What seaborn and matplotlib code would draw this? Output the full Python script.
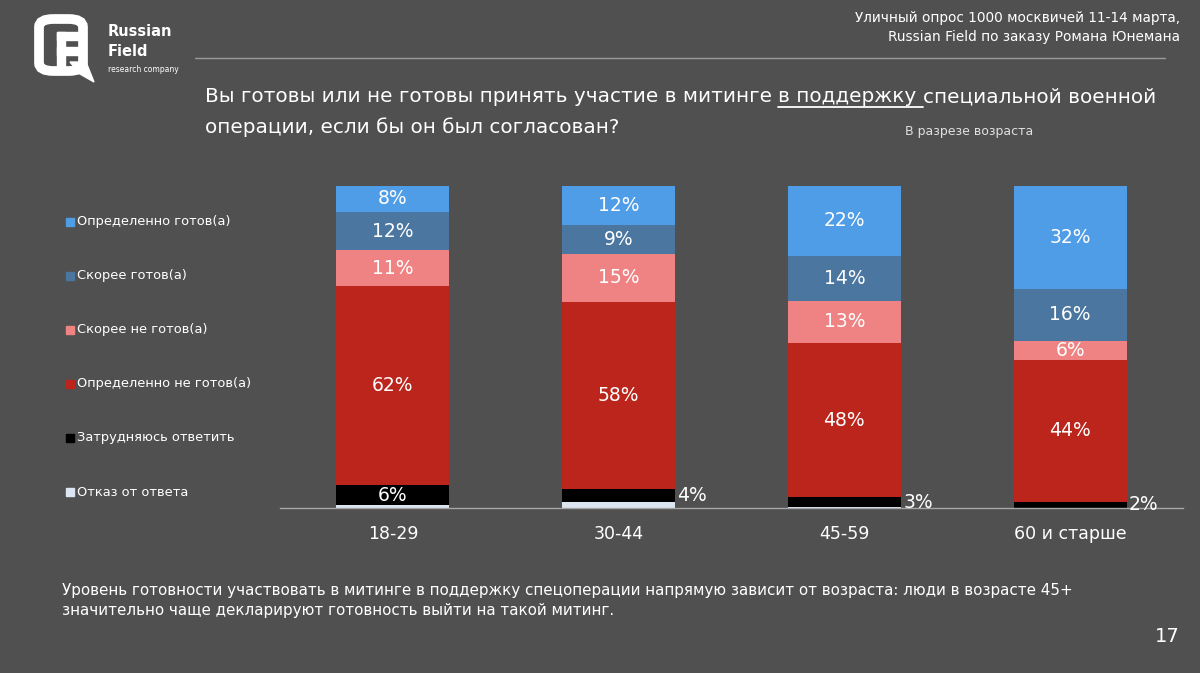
import numpy as np
import matplotlib.pyplot as plt
import seaborn as sns
from matplotlib.patches import Rectangle, FancyBboxPatch, Polygon
from matplotlib.lines import Line2D

# survey answers by age group, percent (stacked bottom -> top)
categories = ["18-29", "30-44", "45-59", "60 и старше"]
series_names = ["Отказ от ответа", "Затрудняюсь ответить", "Определенно не готов(а)",
                "Скорее не готов(а)", "Скорее готов(а)", "Определенно готов(а)"]
refusal = [1, 2, 0.3, 0]
hard_to_say = [6, 4, 3, 2]
def_no = [62, 58, 48, 44]
rather_no = [11, 15, 13, 6]
rather_yes = [12, 9, 14, 16]
def_yes = [8, 12, 22, 32]

colors = ["#dce6f2", "#000000", "#bb251c", "#ef8383", "#4a76a0", "#4f9de6"]
bg = "#505050"
W, H = 1200, 673

sns.set_style("dark")
plt.rcParams['font.family'] = ['DejaVu Sans']

fig = plt.figure(figsize=(12, 6.73), dpi=100, facecolor=bg)


def fx(px):
    return px / W


def fy(py):
    return 1 - py / H


ax = fig.add_axes([fx(280), fy(508), fx(1183) - fx(280), fy(186) - fy(508)])
ax.set_facecolor("none")

stack = np.array([refusal, hard_to_say, def_no, rather_no, rather_yes, def_yes], dtype=float)
cum = np.cumsum(stack, axis=0)

# seaborn stacked bars: draw cumulative totals from top layer down
for i in reversed(range(len(stack))):
    sns.barplot(x=categories, y=cum[i], color=colors[i], width=0.5, saturation=1,
                errorbar=None, order=categories, ax=ax, linewidth=0)

ax.set_ylim(0, 100)
ax.set_xlim(-0.5, 3.5)
ax.set_xlabel("")
ax.set_ylabel("")
ax.set_yticks([])
for s in ["top", "left", "right"]:
    ax.spines[s].set_visible(False)
ax.spines["bottom"].set_color("#a6a6a6")
ax.spines["bottom"].set_linewidth(1)
ax.set_xticks(range(len(categories)))
ax.set_xticklabels(categories, color="white", fontsize=12.5)
ax.tick_params(axis="x", which="major", length=0, pad=12)
ax.set_xticks(np.arange(-0.5, len(categories), 1), minor=True)
ax.tick_params(axis="x", which="minor", length=6, color="#a6a6a6", direction="out")
ax.grid(False)

# value labels
for j in range(len(categories)):
    for i in range(1, len(stack)):
        v = stack[i, j]
        mid = cum[i, j] - v / 2
        if i == 1 and v < 5:
            ax.text(j + 0.26, mid, f"{v:.0f}%", ha="left", va="center",
                    color="white", fontsize=13.5)
        else:
            ax.text(j, mid, f"{v:.0f}%", ha="center", va="center",
                    color="white", fontsize=13.5)

# legend on the left
leg_y = [222, 276, 330, 384, 438, 492]
for k, i in enumerate(reversed(range(len(stack)))):
    y = leg_y[k]
    fig.patches.append(Rectangle((fx(66), fy(y + 4)), fx(8), fy(y - 4) - fy(y + 4),
                                 transform=fig.transFigure, color=colors[i]))
    fig.text(fx(77), fy(y), series_names[i], color="white", fontsize=9.4,
             ha="left", va="center")

# header
fig.text(fx(1180), fy(18), "Уличный опрос 1000 москвичей 11-14 марта,",
         color="white", fontsize=9.8, ha="right", va="center")
fig.text(fx(1180), fy(37), "Russian Field по заказу Романа Юнемана",
         color="white", fontsize=9.8, ha="right", va="center")
fig.lines.append(Line2D([fx(195), fx(1165)], [fy(58), fy(58)], transform=fig.transFigure,
                        color="#9a9a9a", lw=1))

# logo
fig.patches.append(FancyBboxPatch((fx(39), fy(71)), fx(44), fy(19) - fy(71),
                                  boxstyle="round,pad=0,rounding_size=0.012",
                                  transform=fig.transFigure, fc="none", ec="white", lw=7))
fig.patches.append(Rectangle((fx(57), fy(73)), fx(8), fy(32) - fy(73),
                             transform=fig.transFigure, color="white"))
fig.patches.append(Rectangle((fx(57), fy(40)), fx(22), fy(32) - fy(40),
                             transform=fig.transFigure, color="white"))
fig.patches.append(Rectangle((fx(57), fy(55)), fx(22), fy(47) - fy(55),
                             transform=fig.transFigure, color="white"))
fig.patches.append(Polygon([(fx(70), fy(62)), (fx(86), fy(62)), (fx(94), fy(82)), (fx(80), fy(74))],
                           closed=True, transform=fig.transFigure, color="white"))
fig.text(fx(108), fy(32), "Russian", color="white", fontsize=10.5, fontweight="bold",
         ha="left", va="center")
fig.text(fx(108), fy(52), "Field", color="white", fontsize=10.5, fontweight="bold",
         ha="left", va="center")
fig.text(fx(108), fy(69), "research company", color="white", fontsize=5.5,
         ha="left", va="center")

# title with underlined fragment
r = fig.canvas.get_renderer()
tsize = 14.4
x0 = fx(205)
t1 = fig.text(x0, fy(97), "Вы готовы или не готовы принять участие в митинге ",
              color="white", fontsize=tsize, ha="left", va="center")
e1 = t1.get_window_extent(r)
x1 = e1.x1 / fig.bbox.width
t2 = fig.text(x1, fy(97), "в поддержку ", color="white", fontsize=tsize,
              ha="left", va="center")
e2 = t2.get_window_extent(r)
x2 = e2.x1 / fig.bbox.width
fig.lines.append(Line2D([x1, x2], [fy(107), fy(107)], transform=fig.transFigure,
                        color="white", lw=1.3))
fig.text(x2, fy(97), "специальной военной", color="white", fontsize=tsize,
         ha="left", va="center")
fig.text(x0, fy(127), "операции, если бы он был согласован?", color="white",
         fontsize=tsize, ha="left", va="center")
fig.text(fx(905), fy(131), "В разрезе возраста", color="#e0e0e0", fontsize=9,
         ha="left", va="center")

# footer
fig.text(fx(62), fy(590), "Уровень готовности участвовать в митинге в поддержку спецоперации "
         "напрямую зависит от возраста: люди в возрасте 45+", color="white", fontsize=10.9,
         ha="left", va="center")
fig.text(fx(62), fy(611), "значительно чаще декларируют готовность выйти на такой митинг.",
         color="white", fontsize=10.9, ha="left", va="center")
fig.text(fx(1180), fy(637), "17", color="white", fontsize=14, ha="right", va="center")

fig.savefig("out.png", dpi=100, facecolor=bg)
